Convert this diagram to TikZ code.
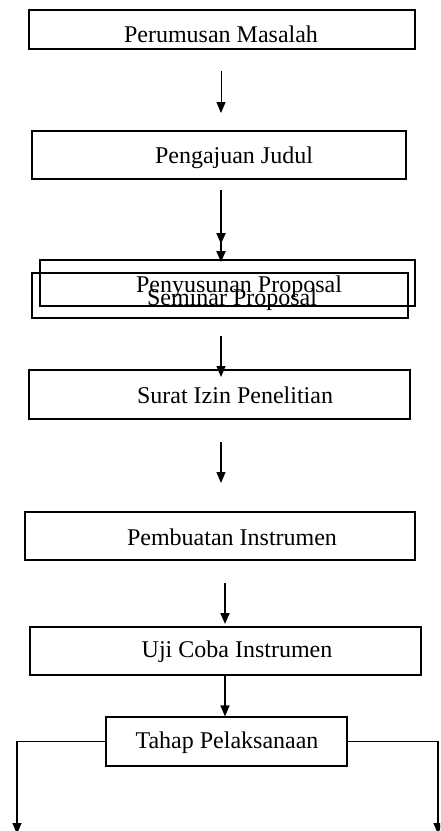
\documentclass[tikz,border=0pt]{standalone}
\usepackage{fontspec}
\setmainfont{Liberation Serif}
\usetikzlibrary{arrows.meta}
\begin{document}
\begin{tikzpicture}[x=1pt,y=-1pt,
  box/.style={draw, line width=1.1pt, inner sep=0pt},
  lbl/.style={anchor=base, inner sep=0pt, font=\fontsize{24}{28}\selectfont},
  tip/.style={-{Triangle[width=9pt,length=11pt]}},
  arr/.style={tip, line width=1.2pt},
  thk/.style={tip, line width=2pt}]
\clip (0,0) rectangle (440,831);
\useasboundingbox (0,0) rectangle (440,831);
% boxes
\node[box, minimum width=386pt, minimum height=39pt] (b1) at (222,29.5) {};
\node[box, minimum width=374pt, minimum height=48pt] (b2) at (219,155) {};
\node[box, minimum width=375pt, minimum height=46pt] (b3) at (227.5,283) {};
\node[box, minimum width=376pt, minimum height=45pt] (b4) at (220,295.5) {};
\node[box, minimum width=381pt, minimum height=49pt] (b5) at (219.5,394.5) {};
\node[box, minimum width=390pt, minimum height=48pt] (b6) at (220,536) {};
\node[box, minimum width=391pt, minimum height=48pt] (b7) at (225.5,651) {};
\node[box, minimum width=241pt, minimum height=49pt] (b8) at (226.5,741.5) {};
% texts
\node[lbl] (t1) at (221,42) {Perumusan Masalah};
\node[lbl] (t2) at (234,163) {Pengajuan Judul};
\node[lbl] (t3) at (239,292) {Penyusunan Proposal};
\node[lbl] (t4) at (232,305) {Seminar Proposal};
\node[lbl] (t5) at (235,403) {Surat Izin Penelitian};
\node[lbl] (t6) at (232,545) {Pembuatan Instrumen};
\node[lbl] (t7) at (237,657) {Uji Coba Instrumen};
\node[lbl] (t8) at (227,748) {Tahap Pelaksanaan};
% connector end points
\coordinate (a1s) at (221,71);  \coordinate (a1e) at (221,113);
\coordinate (a2s) at (221,190); \coordinate (a2e) at (221,262);
\coordinate (a3s) at (221,336); \coordinate (a3e) at (221,377);
\coordinate (a4s) at (221,442); \coordinate (a4e) at (221,483);
\coordinate (a5s) at (225,583); \coordinate (a5e) at (225,624);
\coordinate (lb) at (17,834);
\coordinate (rb) at (438,834);
% connectors
\draw[line width=1pt, tip] (a1s) -- (a1e);
\draw[thk, -{Triangle[width=9pt,length=11pt,sep=7pt]Triangle[width=9pt,length=11pt]}] (a2s) -- (a2e);
\draw[arr] (a3s) -- (a3e);
\draw[arr] (a4s) -- (a4e);
\draw[thk] (a5s) -- (a5e);
\draw[arr] (b7.south -| a5s) -- (b8.north -| a5s);
\draw[arr] (b8.west) -| (lb);
\draw[arr] (b8.east) -| (rb);
\end{tikzpicture}
\end{document}
